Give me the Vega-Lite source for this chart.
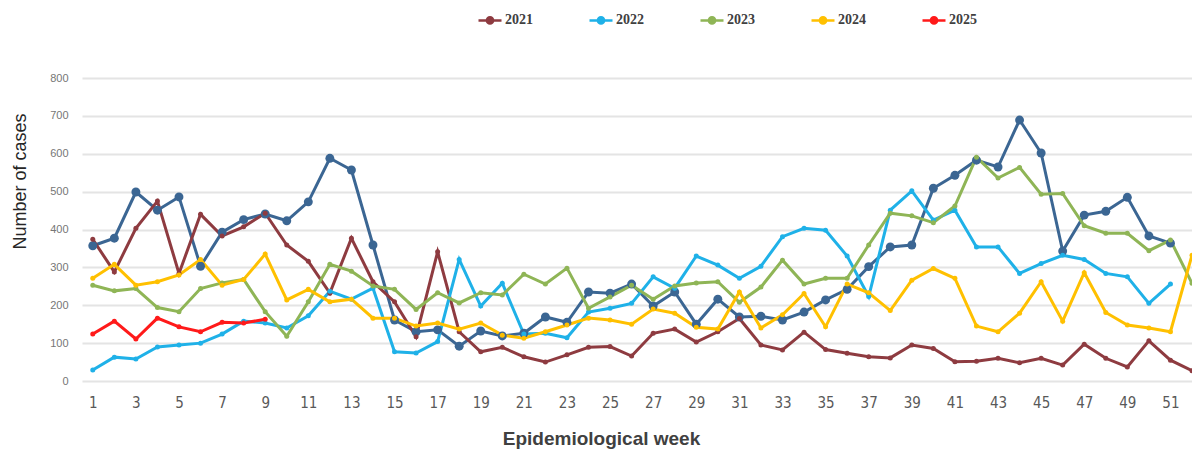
{
  "$schema": "https://vega.github.io/schema/vega-lite/v6.json",
  "width": 1110,
  "height": 303,
  "autosize": {"type": "none"},
  "padding": {"left": 82, "top": 78, "right": 0, "bottom": 69},
  "background": "white",
  "config": {"view": {"stroke": null}},
  "data": {"values": [
    {"week":1,"2020":357,"2021":374,"2022":29,"2023":253,"2024":271,"2025":124},
    {"week":2,"2020":377,"2021":288,"2022":63,"2023":238,"2024":308,"2025":158},
    {"week":3,"2020":499,"2021":403,"2022":58,"2023":244,"2024":253,"2025":111},
    {"week":4,"2020":451,"2021":475,"2022":90,"2023":194,"2024":262,"2025":166},
    {"week":5,"2020":486,"2021":284,"2022":95,"2023":183,"2024":280,"2025":143},
    {"week":6,"2020":303,"2021":440,"2022":100,"2023":244,"2024":321,"2025":130},
    {"week":7,"2020":393,"2021":383,"2022":124,"2023":259,"2024":253,"2025":155},
    {"week":8,"2020":426,"2021":407,"2022":158,"2023":268,"2024":268,"2025":153},
    {"week":9,"2020":441,"2021":443,"2022":153,"2023":183,"2024":335,"2025":163},
    {"week":10,"2020":423,"2021":359,"2022":140,"2023":118,"2024":214},
    {"week":11,"2020":473,"2021":316,"2022":172,"2023":209,"2024":242},
    {"week":12,"2020":588,"2021":232,"2022":237,"2023":308,"2024":209},
    {"week":13,"2020":557,"2021":377,"2022":216,"2023":290,"2024":216},
    {"week":14,"2020":359,"2021":262,"2022":245,"2023":251,"2024":166},
    {"week":15,"2020":161,"2021":209,"2022":77,"2023":242,"2024":166},
    {"week":16,"2020":130,"2021":117,"2022":74,"2023":189,"2024":145},
    {"week":17,"2020":135,"2021":341,"2022":104,"2023":233,"2024":153},
    {"week":18,"2020":92,"2021":130,"2022":321,"2023":206,"2024":137},
    {"week":19,"2020":132,"2021":77,"2022":198,"2023":233,"2024":153},
    {"week":20,"2020":119,"2021":89,"2022":258,"2023":227,"2024":121},
    {"week":21,"2020":126,"2021":64,"2022":124,"2023":282,"2024":113},
    {"week":22,"2020":169,"2021":50,"2022":126,"2023":256,"2024":130},
    {"week":23,"2020":155,"2021":69,"2022":114,"2023":298,"2024":148},
    {"week":24,"2020":235,"2021":89,"2022":182,"2023":192,"2024":166},
    {"week":25,"2020":232,"2021":91,"2022":192,"2023":222,"2024":161},
    {"week":26,"2020":256,"2021":66,"2022":205,"2023":253,"2024":150},
    {"week":27,"2020":198,"2021":126,"2022":275,"2023":216,"2024":190},
    {"week":28,"2020":235,"2021":137,"2022":245,"2023":251,"2024":179},
    {"week":29,"2020":150,"2021":103,"2022":330,"2023":259,"2024":142},
    {"week":30,"2020":216,"2021":130,"2022":306,"2023":262,"2024":137},
    {"week":31,"2020":169,"2021":165,"2022":271,"2023":208,"2024":235},
    {"week":32,"2020":171,"2021":95,"2022":303,"2023":248,"2024":140},
    {"week":33,"2020":161,"2021":82,"2022":381,"2023":319,"2024":175},
    {"week":34,"2020":182,"2021":129,"2022":403,"2023":256,"2024":231},
    {"week":35,"2020":214,"2021":83,"2022":398,"2023":271,"2024":143},
    {"week":36,"2020":242,"2021":73,"2022":330,"2023":271,"2024":256},
    {"week":37,"2020":302,"2021":64,"2022":223,"2023":359,"2024":233},
    {"week":38,"2020":354,"2021":61,"2022":451,"2023":443,"2024":186},
    {"week":39,"2020":359,"2021":95,"2022":502,"2023":436,"2024":266},
    {"week":40,"2020":509,"2021":86,"2022":425,"2023":418,"2024":297},
    {"week":41,"2020":543,"2021":51,"2022":451,"2023":462,"2024":271},
    {"week":42,"2020":583,"2021":52,"2022":354,"2023":591,"2024":145},
    {"week":43,"2020":565,"2021":60,"2022":354,"2023":536,"2024":130},
    {"week":44,"2020":689,"2021":48,"2022":284,"2023":564,"2024":179},
    {"week":45,"2020":602,"2021":60,"2022":310,"2023":493,"2024":262},
    {"week":46,"2020":343,"2021":42,"2022":332,"2023":495,"2024":158},
    {"week":47,"2020":438,"2021":97,"2022":321,"2023":410,"2024":286},
    {"week":48,"2020":448,"2021":60,"2022":284,"2023":390,"2024":181},
    {"week":49,"2020":485,"2021":37,"2022":275,"2023":390,"2024":148},
    {"week":50,"2020":383,"2021":106,"2022":205,"2023":344,"2024":140},
    {"week":51,"2020":364,"2021":55,"2022":256,"2023":372,"2024":130},
    {"week":52,"2021":27,"2023":258,"2024":332}
  ]},
  "transform": [
    {"fold": ["2020", "2021", "2022", "2023", "2024", "2025"], "as": ["year", "cases"]},
    {"filter": "isValid(datum.cases)"}
  ],
  "encoding": {
    "x": {
      "field": "week", "type": "quantitative",
      "scale": {"domain": [0.5, 52], "nice": false, "zero": false},
      "axis": {
        "values": [1,3,5,7,9,11,13,15,17,19,21,23,25,27,29,31,33,35,37,39,41,43,45,47,49,51],
        "grid": false, "domain": false, "ticks": false,
        "labelFont": "'Liberation Sans Narrow', 'DejaVu Sans Condensed', sans-serif",
        "labelFontSize": 15, "labelColor": "#595959", "labelPadding": 14,
        "title": "Epidemiological week",
        "titleFont": "Liberation Sans", "titleFontSize": 19, "titleFontWeight": "bold",
        "titleColor": "#404040", "titleX": 519, "titleY": 57, "titleBaseline": "middle", "titleAlign": "center"
      }
    },
    "y": {
      "field": "cases", "type": "quantitative",
      "scale": {"domain": [0, 800], "nice": false},
      "axis": {
        "values": [0,100,200,300,400,500,600,700,800],
        "grid": true, "gridColor": "#E4E4E4", "gridWidth": 2,
        "domain": false, "ticks": false,
        "labelFont": "Liberation Sans", "labelFontSize": 11, "labelColor": "#767676", "labelPadding": 14,
        "title": "Number of cases",
        "titleFont": "Liberation Sans", "titleFontSize": 18, "titleFontWeight": "normal",
        "titleColor": "#262626", "titleX": -62, "titleY": 103, "titleAngle": -90,
        "titleBaseline": "middle", "titleAlign": "center"
      }
    },
    "color": {
      "field": "year", "type": "nominal",
      "scale": {
        "domain": ["2020", "2021", "2022", "2023", "2024", "2025"],
        "range": ["#3B6693", "#8E3B40", "#1FB1E8", "#8FB556", "#FFC000", "#FF1A1A"]
      },
      "legend": {
        "values": ["2021", "2022", "2023", "2024", "2025"],
        "title": null,
        "orient": "none", "legendX": 395, "legendY": -71,
        "direction": "horizontal", "columns": 5, "gridAlign": "all",
        "columnPadding": 51,
        "symbolType": "M-1,0L1,0M-0.27,0a0.27,0.27 0 1,0 0.54,0a0.27,0.27 0 1,0 -0.54,0",
        "symbolSize": 529, "symbolStrokeWidth": 2.5,
        "labelFont": "Liberation Serif", "labelFontSize": 14, "labelFontWeight": "bold",
        "labelColor": "#404040", "labelOffset": 2,
        "encode": {"symbols": {"update": {"fill": {"scale": "color", "field": "value"}, "fillOpacity": {"value": 1}}}}
      }
    }
  },
  "layer": [
    {"mark": {"type": "line", "strokeWidth": 3}},
    {
      "mark": {"type": "point", "filled": true, "opacity": 1},
      "encoding": {
        "size": {"condition": {"test": "datum.year == '2020'", "value": 80}, "value": 25}
      }
    }
  ]
}
